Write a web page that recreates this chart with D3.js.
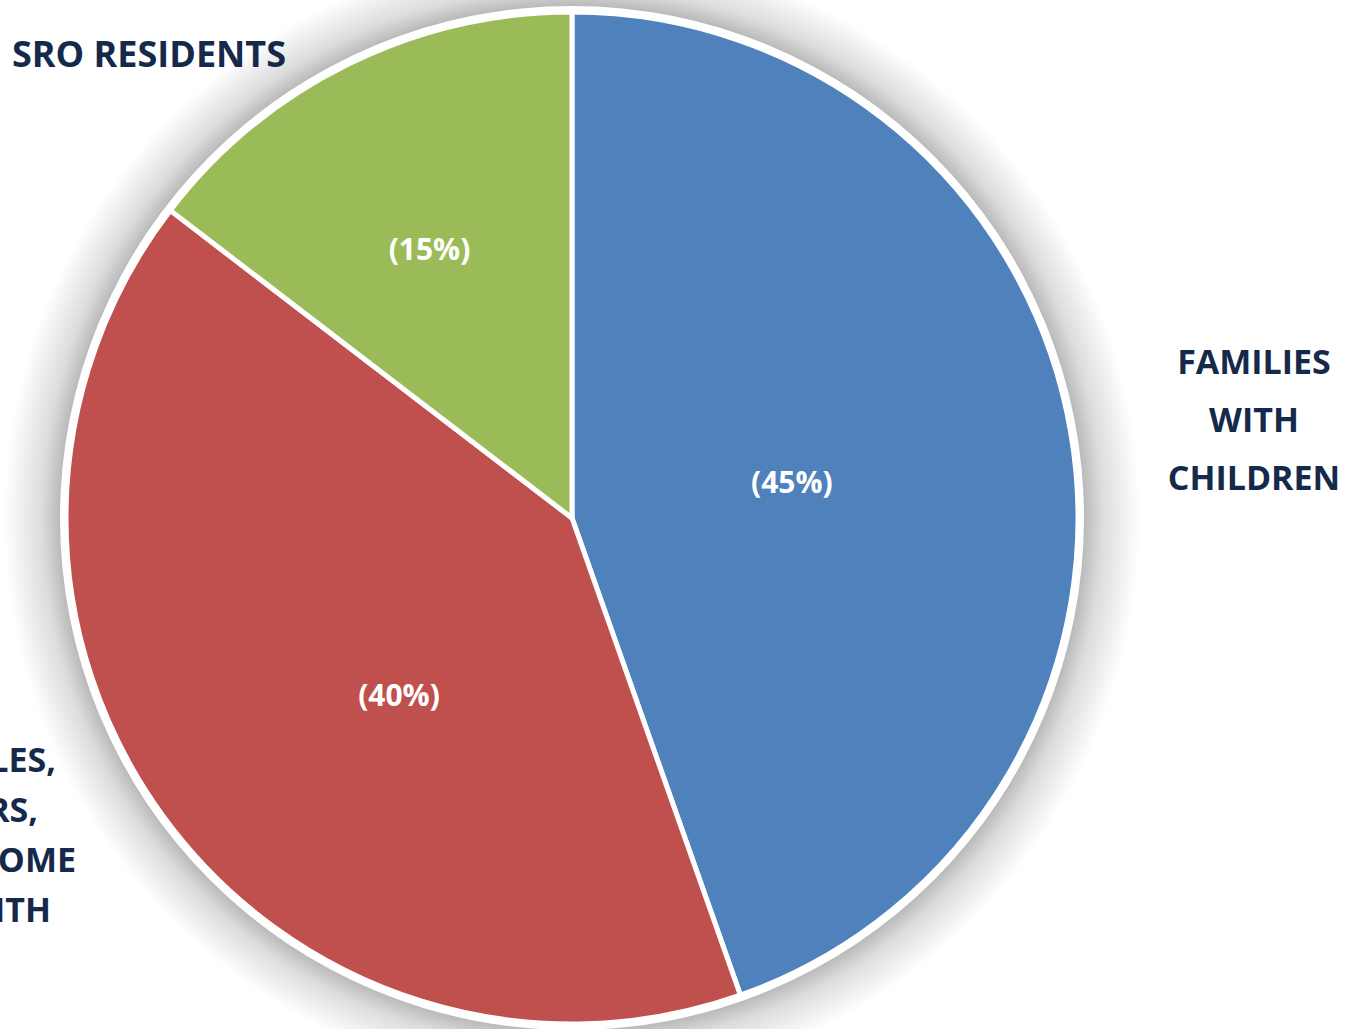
<!DOCTYPE html>
<html>
<head>
<meta charset="utf-8">
<script src="https://cdn.jsdelivr.net/npm/d3@7"></script>
<style>
  html, body { margin: 0; padding: 0; background: #fff; overflow: hidden; }
  svg { display: block; font-family: "Open Sans", "Noto Sans", sans-serif; }
</style>
</head>
<body>
<svg id="chart" width="1351" height="1029"></svg>
<script>
// data
var categories = ['FAMILIES WITH CHILDREN', 'SINGLES, SENIORS, LOW INCOME WITH', 'SRO RESIDENTS'];
var shares = [44.6, 40.8, 14.6];      // slice sizes as measured
var pctLabels = [45, 40, 15];         // percentages as printed
var colors = ['#4f81bd', '#c0504d', '#9bbb59'];

// label text broken into lines (as in the source)
var familiesLines = ['FAMILIES', 'WITH', 'CHILDREN'];
var singlesLines = ['SINGLES,', 'SENIORS,', 'LOW INCOME', 'WITH'];
var sroLines = ['SRO RESIDENTS'];

var width = 1351, height = 1029;
var cx = 572, cy = 518, radius = 506;

var svg = d3.select('#chart');

// grey halo behind the pie, fading outwards
var defs = svg.append('defs');
var halo = radius + 62;
var grad = defs.append('radialGradient').attr('id', 'halo')
  .attr('gradientUnits', 'userSpaceOnUse')
  .attr('cx', 0).attr('cy', 0).attr('r', halo);
grad.append('stop').attr('offset', (radius + 5) / halo).attr('stop-color', '#b8b8b8');
grad.append('stop').attr('offset', (radius + 24) / halo).attr('stop-color', '#dcdcdc');
grad.append('stop').attr('offset', 1).attr('stop-color', '#ffffff');

var g = svg.append('g').attr('transform', 'translate(' + cx + ',' + cy + ')');

g.append('circle')
  .attr('r', halo)
  .attr('fill', 'url(#halo)');

g.append('circle')
  .attr('r', radius + 6)
  .attr('fill', '#fff');

var pie = d3.pie().sort(null).value(function (d) { return d; });
var arcs = pie(shares);
var arc = d3.arc().innerRadius(0).outerRadius(radius);

g.selectAll('path.slice')
  .data(arcs)
  .enter().append('path')
  .attr('class', 'slice')
  .attr('d', arc)
  .attr('fill', function (d, i) { return colors[i]; })
  .attr('stroke', '#fff')
  .attr('stroke-width', 5)
  .attr('stroke-linejoin', 'round');

// percentage labels inside (radius fraction / angle nudge as placed in the source)
var labelR = [0.44, 0.49, 0.60];
var labelNudge = [0.01, -0.17, -0.03];
g.selectAll('text.pct')
  .data(arcs)
  .enter().append('text')
  .attr('class', 'pct')
  .attr('transform', function (d, i) {
    var a = (d.startAngle + d.endAngle) / 2 + labelNudge[i];
    var r = radius * labelR[i];
    return 'translate(' + (Math.sin(a) * r) + ',' + (-Math.cos(a) * r) + ')';
  })
  .attr('text-anchor', 'middle')
  .attr('dy', '0.35em')
  .attr('fill', '#fff')
  .attr('font-weight', 700)
  .attr('font-size', 30)
  .text(function (d, i) { return '(' + pctLabels[i] + '%)'; });

// category labels outside
var navy = '#15294a';

function block(lines, xs, y, lh, anchor, size) {
  var t = svg.append('text')
    .attr('fill', navy)
    .attr('font-weight', 700)
    .attr('font-size', size)
    .attr('text-anchor', anchor);
  lines.forEach(function (s, i) {
    t.append('tspan').attr('x', xs[i]).attr('y', y + i * lh).text(s);
  });
}

block(sroLines, [12], 67, 0, 'start', 36);
block(familiesLines, [1254, 1254, 1254], 374, 58, 'middle', 34);
// left label runs off the page edge in the source; right ends kept where they show
block(singlesLines, [56, 38, 76, 51], 772, 50, 'end', 34);
</script>
</body>
</html>
